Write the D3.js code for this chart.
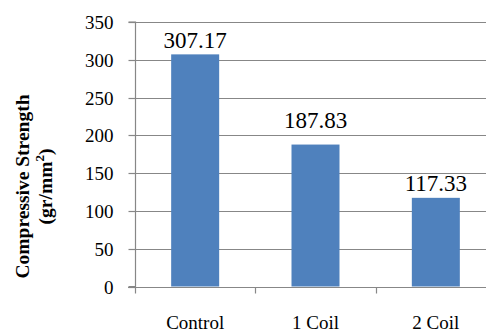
<!DOCTYPE html>
<html><head><meta charset="utf-8">
<script src="https://cdn.jsdelivr.net/npm/d3@7"></script>
<style>html,body{margin:0;padding:0;background:#fff;}svg{display:block;}
svg text{font-family:"Liberation Serif","Times New Roman",serif !important;fill:#000;}</style>
</head><body>
<svg id="c" width="486" height="332"></svg>
<script>
const categories = ["Control", "1 Coil", "2 Coil"];
const values = [307.17, 187.83, 117.33];
const valueLabels = ["307.17", "187.83", "117.33"];
const yTicks = [0, 50, 100, 150, 200, 250, 300, 350];
const yTitle = ["Compressive Strength", "(gr/mm²)"];

const svg = d3.select("#c");
const pL = 135, pR = 496, pT = 22, pB = 286.5;
const grid = "#878787";

const x = d3.scaleBand().domain(categories).range([pL, pR]).paddingInner(0).paddingOuter(0);
const y = d3.scaleLinear().domain([0, 350]).range([pB, pT]);

// gridlines
svg.append("g").selectAll("line").data(yTicks.filter(d => d > 0)).join("line")
  .attr("x1", pL).attr("x2", 486)
  .attr("y1", d => Math.round(y(d)) + 0.5).attr("y2", d => Math.round(y(d)) + 0.5)
  .attr("stroke", grid).attr("stroke-width", 1.2);

// bars
const bw = 48;
svg.append("g").selectAll("rect").data(values).join("rect")
  .attr("x", (d, i) => x(categories[i]) + x.bandwidth() / 2 - bw / 2)
  .attr("width", bw)
  .attr("y", d => y(d))
  .attr("height", d => y(0) - y(d))
  .attr("fill", "#4F81BD");

// y axis
const yAxis = d3.axisLeft(y).tickValues(yTicks).tickSize(7).tickPadding(15);
const gy = svg.append("g").attr("transform", `translate(${pL + 0.5},0)`).call(yAxis);
gy.select(".domain").attr("stroke", grid).attr("stroke-width", 1.2).attr("d", `M-7,${pT}H0V${pB}H-7`);
gy.selectAll(".tick line").attr("stroke", grid).attr("stroke-width", 1.2);
gy.selectAll(".tick").attr("transform", d => `translate(0,${Math.round(y(d)) + 0.5})`);
gy.selectAll(".tick text").style("font-size", "19px").attr("dy", "0.34em");

// x axis
const gx = svg.append("g").attr("transform", `translate(0,${Math.round(pB) + 0.5})`);
gx.append("line").attr("x1", pL - 7).attr("x2", 486).attr("stroke", grid).attr("stroke-width", 1.2);
const xt = [pL, pL + x.bandwidth(), pL + 2 * x.bandwidth()];
gx.selectAll(".xt").data(xt).join("line").attr("class", "xt")
  .attr("x1", d => Math.round(d) + 0.5).attr("x2", d => Math.round(d) + 0.5)
  .attr("y1", 0).attr("y2", 6).attr("stroke", grid).attr("stroke-width", 1.2);
gx.selectAll("text").data(categories).join("text")
  .attr("x", d => x(d) + x.bandwidth() / 2).attr("y", 41)
  .attr("text-anchor", "middle").style("font-size", "19px").text(d => d);

// data labels
const labelGap = [6, 16.5, 6.5];
svg.append("g").selectAll("text").data(values).join("text")
  .attr("x", (d, i) => x(categories[i]) + x.bandwidth() / 2)
  .attr("y", (d, i) => y(d) - labelGap[i])
  .attr("text-anchor", "middle").style("font-size", "23px")
  .text((d, i) => valueLabels[i]);

// y title
const t = svg.append("text").attr("transform", "translate(0,186.5) rotate(-90)")
  .attr("text-anchor", "middle").style("font-weight", "bold").style("font-size", "19.5px");
t.append("tspan").attr("x", 0).attr("y", 29).text(yTitle[0]);
const t2 = svg.append("text").attr("transform", "translate(0,186.5) rotate(-90)")
  .attr("text-anchor", "middle").style("font-weight", "bold").style("font-size", "19.5px")
  .attr("y", 52);
t2.append("tspan").text("(gr/mm");
t2.append("tspan").attr("dy", -8).style("font-size", "13px").text("2");
t2.append("tspan").attr("dy", 8).text(")");
</script>
</body></html>
